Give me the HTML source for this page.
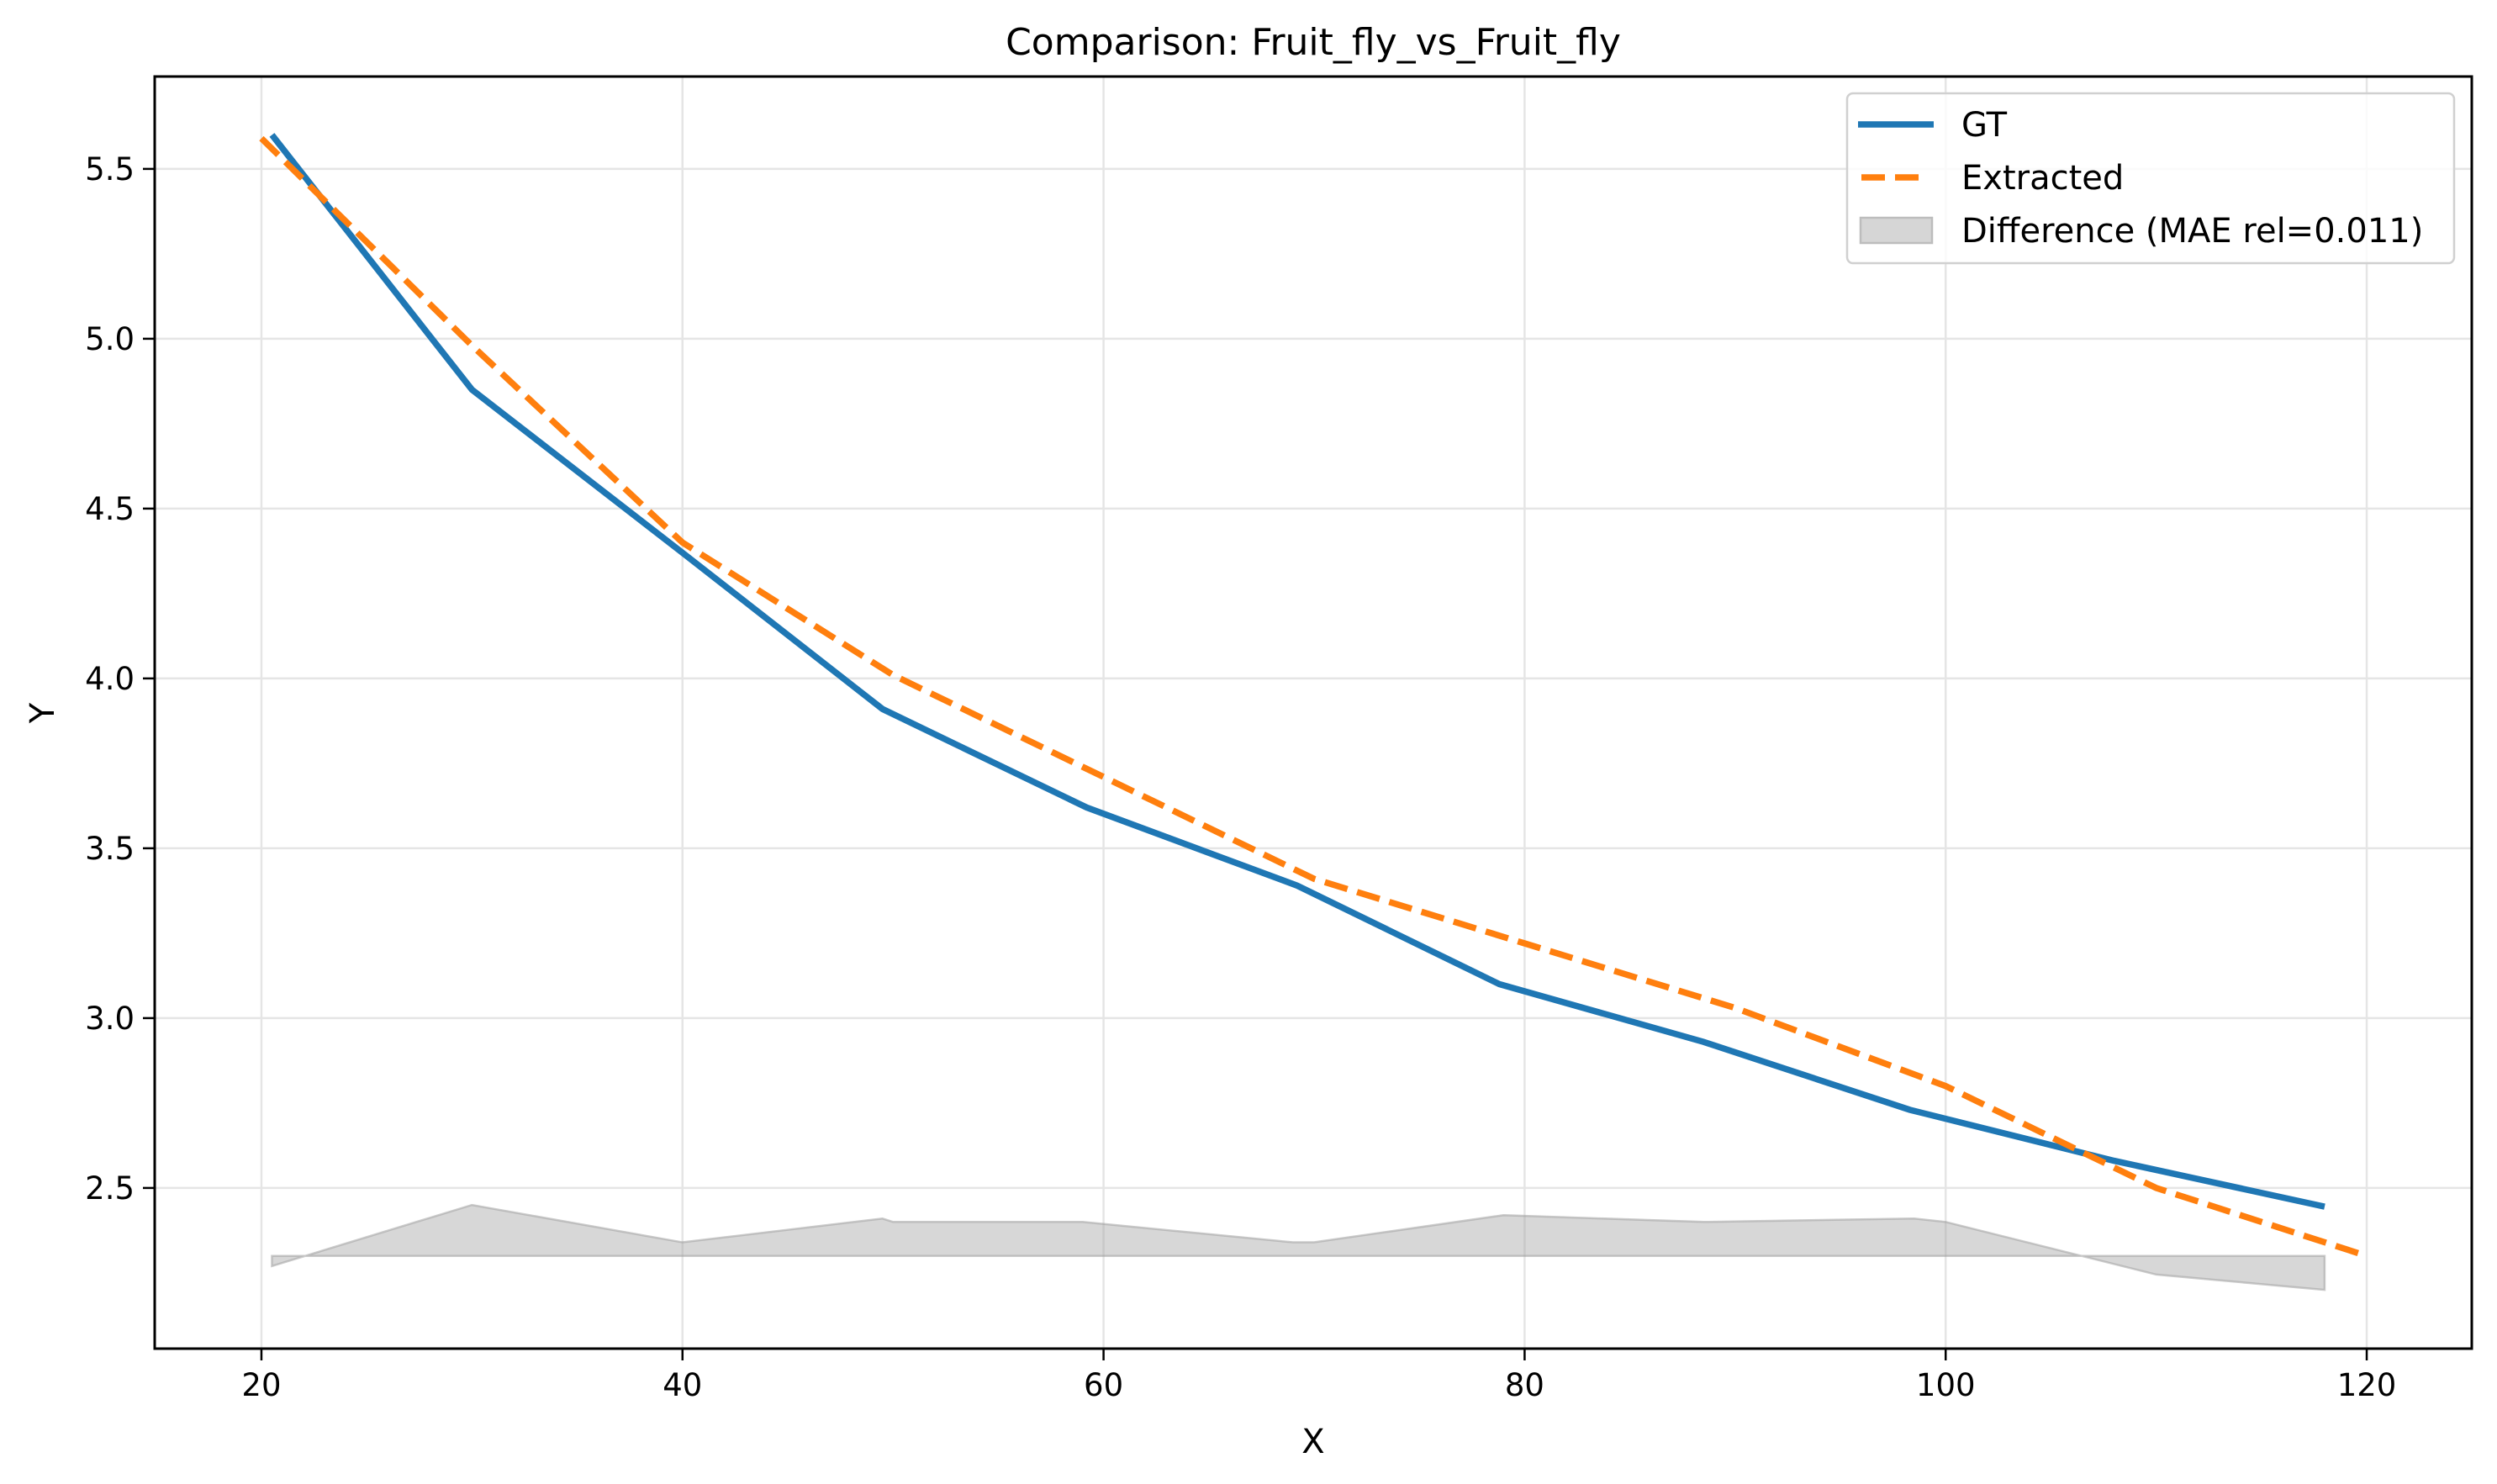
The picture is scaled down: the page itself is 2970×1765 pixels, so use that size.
<!DOCTYPE html>
<html><head><meta charset="utf-8"><style>
html,body{margin:0;padding:0;background:#fff}
svg{display:block;font-family:"DejaVu Sans","Liberation Sans",sans-serif}
</style></head><body>
<svg id="chart" width="2970" height="1765" viewBox="0 0 2970 1765" xmlns="http://www.w3.org/2000/svg">
<rect width="2970" height="1765" fill="#fff"/>
<text x="1562" y="65" font-size="44" text-anchor="middle">Comparison: Fruit_fly_vs_Fruit_fly</text>
<g id="grid"></g>
<g id="fill"></g>
<g id="lines"></g>
<rect x="184" y="91" width="2756" height="1513" fill="none" stroke="#000" stroke-width="3"/>
<g id="ticks"></g>
<text x="1562" y="1728" font-size="40" text-anchor="middle">X</text>
<text x="0" y="0" font-size="40" text-anchor="middle" transform="translate(64,848) rotate(-90)">Y</text>
<g>
<rect x="2197" y="111" width="722" height="202" rx="7" fill="#fff" fill-opacity="0.8" stroke="#d0d0d0" stroke-width="2.5"/>
<line x1="2210" y1="148" x2="2300" y2="148" stroke="#1f77b4" stroke-width="7.5"/>
<text x="2333" y="162" font-size="40">GT</text>
<line x1="2214" y1="211" x2="2290" y2="211" stroke="#ff7f0e" stroke-width="7.5" stroke-dasharray="28,12"/>
<text x="2333" y="225" font-size="40">Extracted</text>
<rect x="2213" y="259" width="85" height="30" fill="#d6d6d6" stroke="#bdbdbd" stroke-width="2.5"/>
<text x="2333" y="288" font-size="40">Difference (MAE rel=0.011)</text>
</g>
</svg>
<script>
const xTicks=[20,40,60,80,100,120];
const yTicks=[2.5,3.0,3.5,4.0,4.5,5.0,5.5];
const gtX=[20.5,30,40,49.5,59.2,69.2,78.8,88.5,98.3,108,118];
const gtY=[5.60,4.85,4.37,3.91,3.62,3.39,3.10,2.93,2.73,2.58,2.445];
const exX=[20,30,40,50,60,70,80,90,100,110,120];
const exY=[5.59,4.98,4.40,4.01,3.71,3.41,3.22,3.03,2.80,2.50,2.30];
const diffX=[20.5,30,40,49.5,50,59,69,70,79,88.5,98.5,100,110,118];
const diffY=[2.27,2.45,2.34,2.41,2.40,2.40,2.34,2.34,2.42,2.40,2.41,2.40,2.245,2.20];
const diffBase=2.30;

const L=184,R=2940,T=91,B=1604,xMin=14.93,xMax=124.99,yMin=2.027,yMax=5.772;
const sx=v=>L+(v-xMin)/(xMax-xMin)*(R-L);
const sy=v=>B-(v-yMin)/(yMax-yMin)*(B-T);
const NS="http://www.w3.org/2000/svg";
function mk(tag,attrs,parent){const e=document.createElementNS(NS,tag);for(const k in attrs)e.setAttribute(k,attrs[k]);document.getElementById(parent).appendChild(e);return e;}
xTicks.forEach(t=>{
  const g=mk('line',{x1:sx(t),x2:sx(t),y1:T,y2:B,stroke:'#e5e5e5','stroke-width':2.5},'grid');
  
  
  const tk=mk('line',{x1:sx(t),x2:sx(t),y1:B,y2:B+14,stroke:'#000','stroke-width':2.5},'ticks');
  
  
  const tx=mk('text',{x:sx(t),y:B+56,'font-size':37,'text-anchor':'middle'},'ticks');
  tx.textContent=String(t);
  
  
});
yTicks.forEach(t=>{
  const g=mk('line',{x1:L,x2:R,y1:sy(t),y2:sy(t),stroke:'#e5e5e5','stroke-width':2.5},'grid');
  
  
  const tk=mk('line',{x1:L-14,x2:L,y1:sy(t),y2:sy(t),stroke:'#000','stroke-width':2.5},'ticks');
  
  
  const tx=mk('text',{x:L-24,y:sy(t)+13,'font-size':37,'text-anchor':'end'},'ticks');
  tx.textContent=t.toFixed(1);
  
  
});
let d='M'+diffX.map((x,i)=>sx(x)+','+sy(diffY[i])).join(' L');
d+=' L'+sx(diffX[diffX.length-1])+','+sy(diffBase)+' L'+sx(diffX[0])+','+sy(diffBase)+' Z';
const f=mk('path',{d:d,fill:'#a0a0a0','fill-opacity':0.42,stroke:'#a0a0a0','stroke-opacity':0.55,'stroke-width':2.5},'fill');


const gt=mk('polyline',{points:gtX.map((x,i)=>sx(x)+','+sy(gtY[i])).join(' '),fill:'none',stroke:'#1f77b4','stroke-width':7.5},'lines');


const ex=mk('polyline',{points:exX.map((x,i)=>sx(x)+','+sy(exY[i])).join(' '),fill:'none',stroke:'#ff7f0e','stroke-width':7.5,'stroke-dasharray':'28,12'},'lines');


</script>
</body></html>
